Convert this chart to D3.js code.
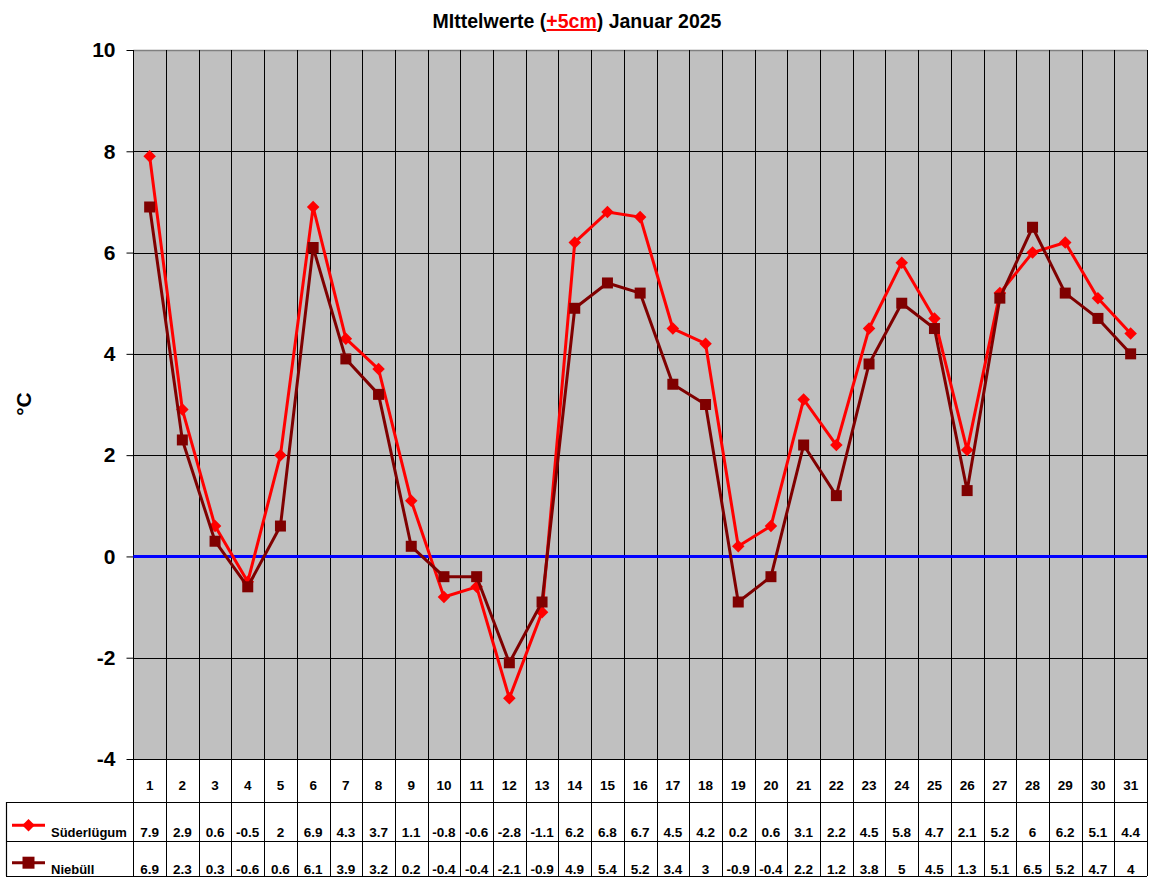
<!DOCTYPE html>
<html>
<head>
<meta charset="utf-8">
<script src="https://cdn.jsdelivr.net/npm/d3@7"></script>
<style>
  body { margin: 0; background: #fff; }
  svg { display: block; font-family: Arial, "Liberation Sans", sans-serif; }
</style>
</head>
<body>
<div class="main"></div>
<script>
  // data
  let days = ['1','2','3','4','5','6','7','8','9','10','11','12','13','14','15','16',
              '17','18','19','20','21','22','23','24','25','26','27','28','29','30','31'];
  let suderlugum = [7.9, 2.9, 0.6, -0.5, 2, 6.9, 4.3, 3.7, 1.1, -0.8, -0.6, -2.8, -1.1, 6.2, 6.8, 6.7,
                    4.5, 4.2, 0.2, 0.6, 3.1, 2.2, 4.5, 5.8, 4.7, 2.1, 5.2, 6, 6.2, 5.1, 4.4];
  let niebull = [6.9, 2.3, 0.3, -0.6, 0.6, 6.1, 3.9, 3.2, 0.2, -0.4, -0.4, -2.1, -0.9, 4.9, 5.4, 5.2,
                 3.4, 3, -0.9, -0.4, 2.2, 1.2, 3.8, 5, 4.5, 1.3, 5.1, 6.5, 5.2, 4.7, 4];
  let yTicks = [-4, -2, 0, 2, 4, 6, 8, 10];

  let seriesList = [
    { name: 'Süderlügum', values: suderlugum, color: '#ff0000', marker: 'diamond' },
    { name: 'Niebüll', values: niebull, color: '#800000', marker: 'square' }
  ];

  let opts = {
    width: 1152, height: 882,
    left: 133.3, right: 1147, top: 50, bottom: 759,
    tableLeft: 6, headBottom: 802, rowMid: 840.7, tableBottom: 876
  };

  let svg = d3.select('.main').append('svg')
    .attr('width', opts.width)
    .attr('height', opts.height);

  let x = d3.scaleBand().domain(days).range([opts.left, opts.right]).padding(0);
  let y = d3.scaleLinear().domain([-4, 10]).range([opts.bottom, opts.top]);

  // plot background
  svg.append('rect')
    .attr('x', opts.left).attr('y', opts.top)
    .attr('width', opts.right - opts.left).attr('height', opts.bottom - opts.top)
    .attr('fill', '#c0c0c0');

  // horizontal grid
  svg.selectAll('.hgrid').data(yTicks.filter(d => d !== 10)).enter().append('line')
    .attr('x1', opts.left).attr('x2', opts.right)
    .attr('y1', d => Math.round(y(d)) + 0.5).attr('y2', d => Math.round(y(d)) + 0.5)
    .attr('stroke', '#000').attr('stroke-width', 1);

  // top border of plot
  svg.append('line')
    .attr('x1', opts.left).attr('x2', opts.right)
    .attr('y1', opts.top + 0.5).attr('y2', opts.top + 0.5)
    .attr('stroke', '#808080').attr('stroke-width', 1.5);

  // vertical category lines, running down through the table
  let bounds = days.map(d => x(d)).concat([opts.right]);
  svg.selectAll('.vgrid').data(bounds).enter().append('line')
    .attr('x1', d => Math.round(d) + 0.5).attr('x2', d => Math.round(d) + 0.5)
    .attr('y1', opts.top).attr('y2', opts.tableBottom)
    .attr('stroke', '#000').attr('stroke-width', 1);

  // y axis
  let yAxis = d3.axisLeft(y).tickValues(yTicks).tickSize(7).tickPadding(11)
    .tickFormat(d => String(d));
  let yg = svg.append('g')
    .attr('transform', 'translate(' + (Math.round(opts.left) + 0.5) + ',0)')
    .call(yAxis);
  yg.select('.domain').remove();
  yg.selectAll('.tick line').attr('stroke', '#000');
  yg.selectAll('.tick text')
    .attr('font-size', 21).attr('font-weight', 'bold').attr('fill', '#000')
    .attr('font-family', 'Arial, "Liberation Sans", sans-serif');

  // zero line
  svg.append('line')
    .attr('x1', opts.left).attr('x2', opts.right)
    .attr('y1', y(0)).attr('y2', y(0))
    .attr('stroke', '#0000ff').attr('stroke-width', 3);

  // series lines + markers
  let line = d3.line()
    .x((d, i) => x(days[i]) + x.bandwidth() / 2)
    .y(d => y(d));

  seriesList.forEach(s => {
    svg.append('path')
      .datum(s.values)
      .attr('d', line)
      .attr('fill', 'none')
      .attr('stroke', s.color)
      .attr('stroke-width', 3)
      .attr('stroke-linejoin', 'round');

    let sym = s.marker === 'diamond'
      ? d3.symbol().type(d3.symbolDiamond2).size(100)
      : d3.symbol().type(d3.symbolSquare).size(121);

    svg.selectAll('.m-' + s.marker).data(s.values).enter().append('path')
      .attr('d', sym)
      .attr('transform', (d, i) => 'translate(' + (x(days[i]) + x.bandwidth() / 2) + ',' + y(d) + ')')
      .attr('fill', s.color);
  });

  // title
  let title = svg.append('text')
    .attr('x', 577).attr('y', 28)
    .attr('text-anchor', 'middle')
    .attr('font-size', 19.5).attr('font-weight', 'bold');
  title.append('tspan').text('MIttelwerte (');
  title.append('tspan').text('+5cm').attr('fill', '#ff0000').attr('text-decoration', 'underline');
  title.append('tspan').text(') Januar 2025');

  // y label
  svg.append('text')
    .attr('transform', 'translate(31,404) rotate(-90)')
    .attr('text-anchor', 'middle')
    .attr('font-size', 21).attr('font-weight', 'bold')
    .text('°C');

  // data table
  let tbl = svg.append('g');
  [opts.headBottom, opts.rowMid, opts.tableBottom].forEach(yy => {
    tbl.append('line')
      .attr('x1', opts.tableLeft).attr('x2', opts.right)
      .attr('y1', Math.round(yy) + 0.5).attr('y2', Math.round(yy) + 0.5)
      .attr('stroke', '#000').attr('stroke-width', 1.2);
  });
  tbl.append('line')
    .attr('x1', opts.tableLeft + 0.5).attr('x2', opts.tableLeft + 0.5)
    .attr('y1', opts.headBottom).attr('y2', opts.tableBottom)
    .attr('stroke', '#000').attr('stroke-width', 1.2);

  // day labels
  tbl.selectAll('.day').data(days).enter().append('text')
    .attr('x', d => x(d) + x.bandwidth() / 2)
    .attr('y', 790)
    .attr('text-anchor', 'middle')
    .attr('font-size', 13.5).attr('font-weight', 'bold')
    .text(d => d);

  let rowBase = [837, 874];
  let legendY = [825.3, 862.7];

  seriesList.forEach((s, k) => {
    tbl.selectAll('.val' + k).data(s.values).enter().append('text')
      .attr('x', (d, i) => x(days[i]) + x.bandwidth() / 2)
      .attr('y', rowBase[k])
      .attr('text-anchor', 'middle')
      .attr('font-size', 13.5).attr('font-weight', 'bold')
      .text(d => d);

    // legend key
    tbl.append('line')
      .attr('x1', 12).attr('x2', 45)
      .attr('y1', legendY[k]).attr('y2', legendY[k])
      .attr('stroke', s.color).attr('stroke-width', 3);
    let sym = s.marker === 'diamond'
      ? d3.symbol().type(d3.symbolDiamond2).size(100)
      : d3.symbol().type(d3.symbolSquare).size(144);
    tbl.append('path')
      .attr('d', sym)
      .attr('transform', 'translate(28.5,' + legendY[k] + ')')
      .attr('fill', s.color);
    tbl.append('text')
      .attr('x', 51).attr('y', rowBase[k])
      .attr('font-size', 13).attr('font-weight', 'bold')
      .text(s.name);
  });
</script>
</body>
</html>
